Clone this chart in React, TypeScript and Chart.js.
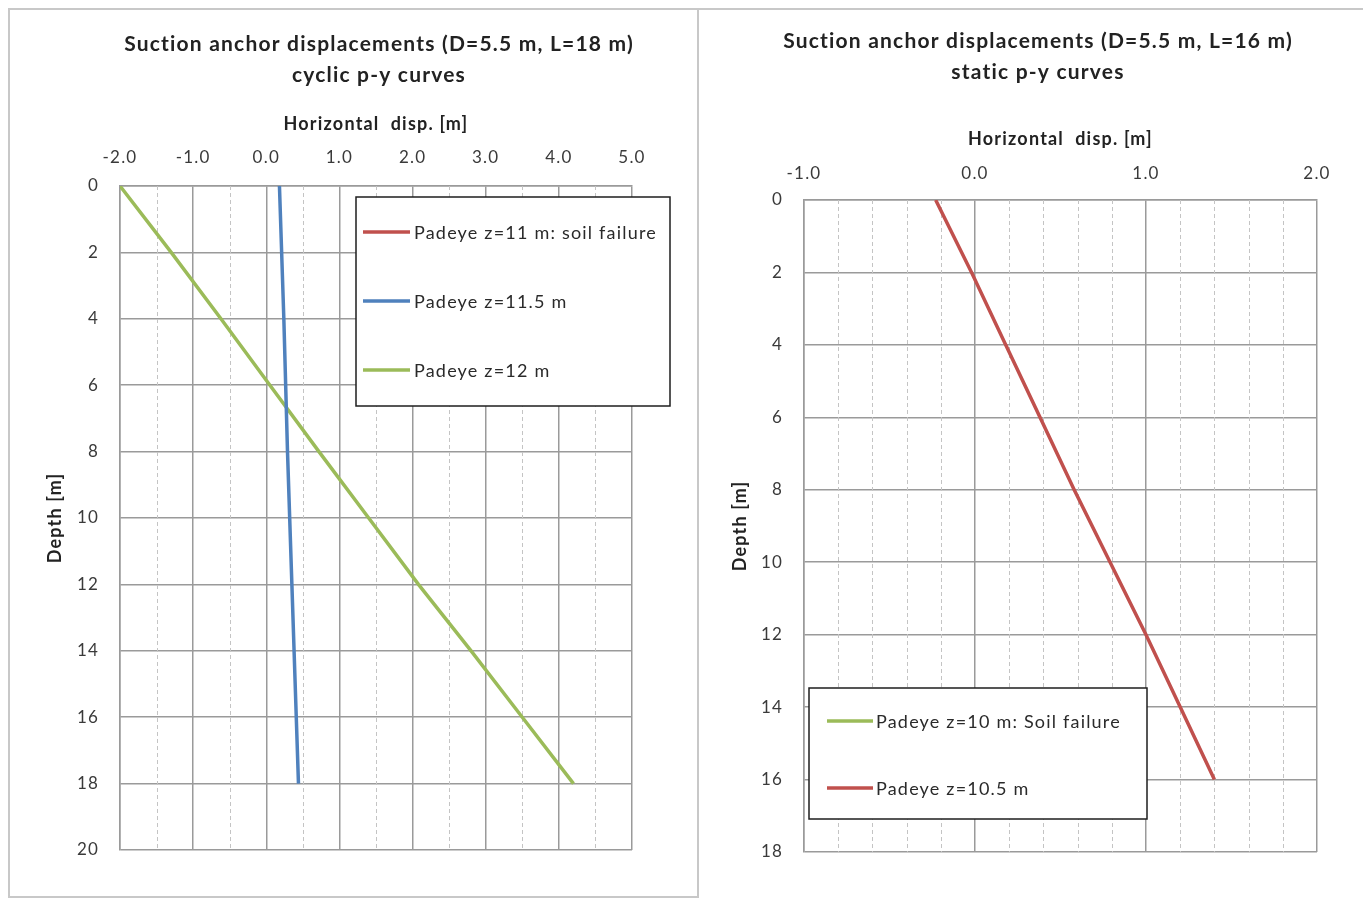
import { useEffect, useRef } from "react";
import { Chart, registerables } from "chart.js";

Chart.register(...registerables);

// ---------- data ----------
const leftTitle = ["Suction anchor displacements (D=5.5 m, L=18 m)", "cyclic p-y curves"];
const rightTitle = ["Suction anchor displacements (D=5.5 m, L=16 m)", "static p-y curves"];
const xAxisTitle = "Horizontal  disp. [m]";
const yAxisTitle = "Depth [m]";

const leftLabels = ["Padeye z=11 m: soil failure", "Padeye z=11.5 m", "Padeye z=12 m"];
const leftRedDepth: number[] = [];
const leftRedDisp: number[] = [];
const leftBlueDepth = [0, 4, 8, 12, 16, 18];
const leftBlueDisp = [0.18, 0.24, 0.29, 0.35, 0.41, 0.44];
const leftGreenDepth = [0, 2, 4, 6, 8, 10, 12, 14, 16, 18];
const leftGreenDisp = [-2.0, -1.3, -0.62, 0.05, 0.72, 1.4, 2.08, 2.8, 3.5, 4.2];

const rightLabels = ["Padeye z=10 m: Soil failure", "Padeye z=10.5 m"];
const rightGreenDepth: number[] = [];
const rightGreenDisp: number[] = [];
const rightRedDepth = [0, 2, 4, 6, 8, 10, 12, 14, 16];
const rightRedDisp = [-0.23, -0.02, 0.18, 0.38, 0.58, 0.79, 1.0, 1.2, 1.4];

const leftXRange = [-2, 5];
const leftYRange = [0, 20];
const rightXRange = [-1, 2];
const rightYRange = [0, 18];

const RED = "#c0504d";
const BLUE = "#4f81bd";
const GREEN = "#9bbb59";
const FONT = "Lato, 'Open Sans', sans-serif";
const SPACING = "1.2px";

const pts = (xs: number[], ys: number[]) => xs.map((x, i) => ({ x, y: ys[i] }));

type Layout = {
  width: number;
  height: number;
  area: { left: number; top: number; right: number; bottom: number };
  titleX: number;
  titleY: number[];
  xTitlePad: number;
  xTickPad: number;
  yTitlePad: number;
  yTickPad: number;
  minorDiv: number;
  legend: { x: number; y: number; w: number; h: number; rows: number[]; l0: number; l1: number; tx: number };
};

function makeChart(
  canvas: HTMLCanvasElement,
  title: string[],
  datasets: any[],
  xRange: number[],
  yRange: number[],
  L: Layout
) {
  const spacing = {
    id: "letterSpacing",
    beforeUpdate(chart: any) {
      chart.ctx.letterSpacing = SPACING;
    },
    beforeDraw(chart: any) {
      chart.ctx.letterSpacing = SPACING;
    },
  };
  const titlePlugin = {
    id: "twoLineTitle",
    afterDraw(chart: any) {
      const ctx = chart.ctx;
      ctx.save();
      ctx.letterSpacing = SPACING;
      ctx.fillStyle = "#222";
      ctx.font = `bold 21px ${FONT}`;
      ctx.textAlign = "center";
      ctx.textBaseline = "middle";
      title.forEach((t, i) => ctx.fillText(t, L.titleX, L.titleY[i]));
      ctx.restore();
    },
  };
  const minorGrid = {
    id: "minorGrid",
    beforeDatasetsDraw(chart: any) {
      const ctx = chart.ctx;
      const xs = chart.scales.x;
      const { top, bottom } = chart.chartArea;
      ctx.save();
      ctx.strokeStyle = "#c4c4c4";
      ctx.lineWidth = 1;
      ctx.setLineDash([4, 3]);
      const n = (xRange[1] - xRange[0]) * L.minorDiv;
      for (let i = 1; i < n; i++) {
        if (i % L.minorDiv === 0) continue;
        const v = xRange[0] + i / L.minorDiv;
        const px = Math.round(xs.getPixelForValue(v)) + 0.5;
        ctx.beginPath();
        ctx.moveTo(px, top);
        ctx.lineTo(px, bottom);
        ctx.stroke();
      }
      ctx.restore();
    },
  };
  const boxLegend = {
    id: "boxLegend",
    afterDatasetsDraw(chart: any) {
      const ctx = chart.ctx;
      const b = L.legend;
      ctx.save();
      ctx.letterSpacing = SPACING;
      ctx.fillStyle = "#fff";
      ctx.fillRect(b.x, b.y, b.w, b.h);
      ctx.strokeStyle = "#1e1e1e";
      ctx.lineWidth = 1.5;
      ctx.strokeRect(b.x, b.y, b.w, b.h);
      chart.data.datasets.forEach((ds: any, i: number) => {
        const y = b.rows[i];
        ctx.strokeStyle = ds.borderColor;
        ctx.lineWidth = 3.5;
        ctx.beginPath();
        ctx.moveTo(b.l0, y);
        ctx.lineTo(b.l1, y);
        ctx.stroke();
        ctx.fillStyle = "#2a2a2a";
        ctx.font = `18px ${FONT}`;
        ctx.textAlign = "left";
        ctx.textBaseline = "middle";
        ctx.fillText(ds.label, b.tx, y + 1);
      });
      ctx.restore();
    },
  };

  const gridColor = "#9a9a9a";
  return new Chart(canvas, {
    type: "scatter",
    data: { datasets },
    options: {
      responsive: false,
      animation: false,
      layout: {
        padding: { left: 0, top: 0, right: L.width - L.area.right, bottom: L.height - L.area.bottom },
      },
      plugins: { legend: { display: false }, title: { display: false }, tooltip: { enabled: false } },
      elements: { point: { radius: 0 }, line: { borderWidth: 3.5, tension: 0 } },
      scales: {
        x: {
          type: "linear",
          position: "top",
          min: xRange[0],
          max: xRange[1],
          afterFit: (s: any) => {
            s.height = L.area.top;
          },
          ticks: {
            stepSize: 1,
            padding: L.xTickPad,
            color: "#3a3a3a",
            font: { family: FONT, size: 17 },
            callback: (v: any) => Number(v).toFixed(1),
          },
          grid: { color: gridColor, lineWidth: 1.5, drawTicks: false },
          border: { display: true, color: gridColor, width: 1.5 },
          title: {
            display: true,
            text: xAxisTitle,
            color: "#222",
            font: { family: FONT, size: 18, weight: "bold" },
            padding: { top: L.xTitlePad, bottom: 0 },
          },
        },
        y: {
          type: "linear",
          position: "left",
          reverse: true,
          min: yRange[0],
          max: yRange[1],
          afterFit: (s: any) => {
            s.width = L.area.left;
          },
          ticks: {
            stepSize: 2,
            padding: L.yTickPad,
            color: "#3a3a3a",
            font: { family: FONT, size: 17 },
          },
          grid: { color: gridColor, lineWidth: 1.5, drawTicks: false },
          border: { display: true, color: gridColor, width: 1.5 },
          title: {
            display: true,
            text: yAxisTitle,
            color: "#222",
            font: { family: FONT, size: 18, weight: "bold" },
            padding: { top: L.yTitlePad, bottom: 0 },
          },
        },
      },
    },
    plugins: [spacing, minorGrid, boxLegend, titlePlugin],
  } as any);
}

const leftLayout: Layout = {
  width: 698,
  height: 898,
  area: { left: 120, top: 186, right: 632, bottom: 850 },
  titleX: 379,
  titleY: [44, 75],
  xTitlePad: 113,
  xTickPad: 18,
  yTitlePad: 44,
  yTickPad: 21,
  minorDiv: 2,
  legend: { x: 356, y: 197, w: 314, h: 209, rows: [232, 301, 370], l0: 363, l1: 410, tx: 414 },
};

const rightLayout: Layout = {
  width: 665,
  height: 898,
  area: { left: 106, top: 200, right: 619, bottom: 852 },
  titleX: 340,
  titleY: [41, 72],
  xTitlePad: 128,
  xTickPad: 16,
  yTitlePad: 31,
  yTickPad: 21,
  minorDiv: 5,
  legend: { x: 111, y: 688, w: 338, h: 131, rows: [721, 788], l0: 129, l1: 175, tx: 178 },
};

export default function App() {
  const leftRef = useRef<HTMLCanvasElement | null>(null);
  const rightRef = useRef<HTMLCanvasElement | null>(null);

  useEffect(() => {
    const c1 = makeChart(
      leftRef.current!,
      leftTitle,
      [
        { label: leftLabels[0], data: pts(leftRedDisp, leftRedDepth), borderColor: RED, backgroundColor: RED, showLine: true },
        { label: leftLabels[1], data: pts(leftBlueDisp, leftBlueDepth), borderColor: BLUE, backgroundColor: BLUE, showLine: true },
        { label: leftLabels[2], data: pts(leftGreenDisp, leftGreenDepth), borderColor: GREEN, backgroundColor: GREEN, showLine: true },
      ],
      leftXRange,
      leftYRange,
      leftLayout
    );
    const c2 = makeChart(
      rightRef.current!,
      rightTitle,
      [
        { label: rightLabels[0], data: pts(rightGreenDisp, rightGreenDepth), borderColor: GREEN, backgroundColor: GREEN, showLine: true },
        { label: rightLabels[1], data: pts(rightRedDisp, rightRedDepth), borderColor: RED, backgroundColor: RED, showLine: true },
      ],
      rightXRange,
      rightYRange,
      rightLayout
    );
    return () => {
      c1.destroy();
      c2.destroy();
    };
  }, []);

  return (
    <div style={{ position: "fixed", left: 0, top: 0, width: 1363, height: 898, overflow: "hidden", background: "#fff" }}>
      <div
        style={{
          position: "absolute",
          left: 8,
          top: 8,
          width: 691,
          height: 890,
          border: "2px solid #c8c8c8",
          boxSizing: "border-box",
        }}
      />
      <div
        style={{
          position: "absolute",
          left: 697,
          top: 8,
          width: 700,
          height: 1000,
          border: "2px solid #c8c8c8",
          boxSizing: "border-box",
        }}
      />
      <canvas ref={leftRef} width={698} height={898} style={{ position: "absolute", left: 0, top: 0 }} />
      <canvas ref={rightRef} width={665} height={898} style={{ position: "absolute", left: 698, top: 0 }} />
    </div>
  );
}
